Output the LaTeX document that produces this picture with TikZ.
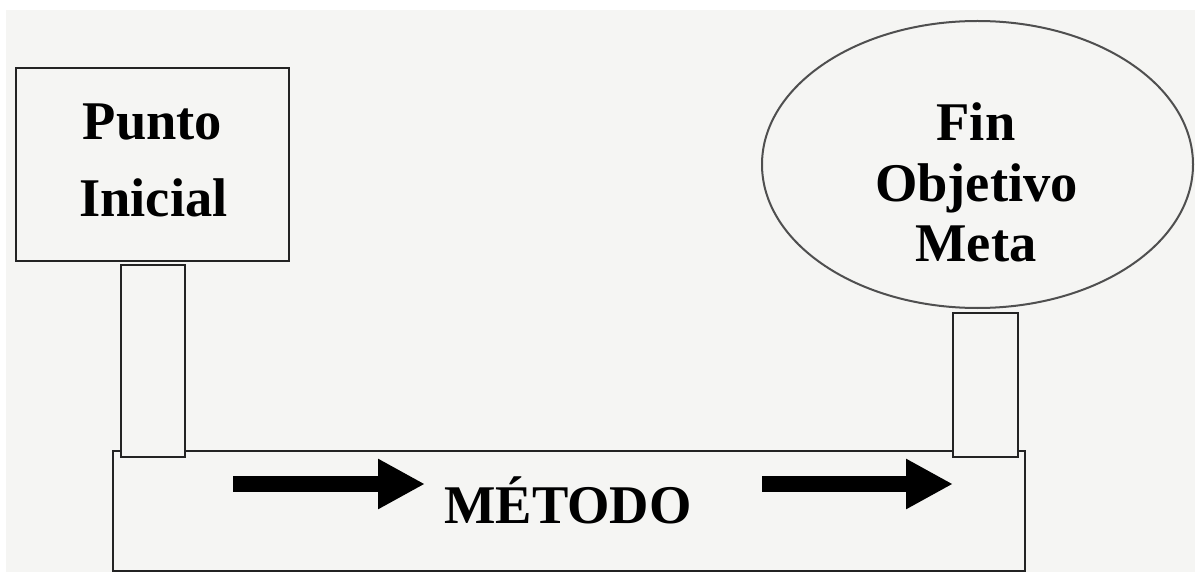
\documentclass[tikz,border=0pt]{standalone}
\usepackage{fontspec}
\setmainfont{Liberation Serif}
\usetikzlibrary{arrows.meta,shapes.geometric}
\definecolor{bggray}{RGB}{245,245,243}
\definecolor{edge}{RGB}{35,35,35}
\tikzset{
  shapebox/.style={draw=edge, line width=2bp, fill=bggray},
  lbl/.style={anchor=base, inner sep=0pt, font=\fontsize{54.5bp}{60bp}\selectfont\bfseries},
  blockarrow/.style={line width=16bp, line cap=butt, -{Triangle[length=47bp,width=47bp]}, black},
}
\begin{document}
\begin{tikzpicture}[x=1bp,y=-1bp]
\useasboundingbox (0,0) rectangle (1195,572);
\fill[white] (0,0) rectangle (1195,572);
\fill[bggray] (6,10) rectangle (1195,572);
% base
\draw[shapebox] (113,451) rectangle (1025,571);
% posts
\draw[shapebox] (121,265) rectangle (185,457);
\draw[shapebox] (953,313) rectangle (1018,457);
% start box
\node[shapebox, rectangle, minimum width=273bp, minimum height=193bp, inner sep=0pt] (start) at (152.5,164.5) {};
\node[lbl] (start1) at (152.5,140) {Punto};
\node[lbl] (start2) at (153.5,217) {Inicial};
% goal ellipse
\node[shapebox, draw=edge!80, ellipse, minimum width=431bp, minimum height=287bp, inner sep=0pt] (goal) at (977.5,164.5) {};
\node[lbl] (goal1) at (976,141) {Fin};
\node[lbl] (goal2) at (976.5,202) {Objetivo};
\node[lbl] (goal3) at (976,262) {Meta};
% method
\node[lbl] (method) at (568,523) {MÉTODO};
% arrows
\coordinate (a1s) at (233,484);
\coordinate (a1e) at (425,484);
\coordinate (a2s) at (762,484);
\coordinate (a2e) at (953,484);
\draw[blockarrow] (a1s) -- (a1e);
\draw[blockarrow] (a2s) -- (a2e);
\end{tikzpicture}
\end{document}
